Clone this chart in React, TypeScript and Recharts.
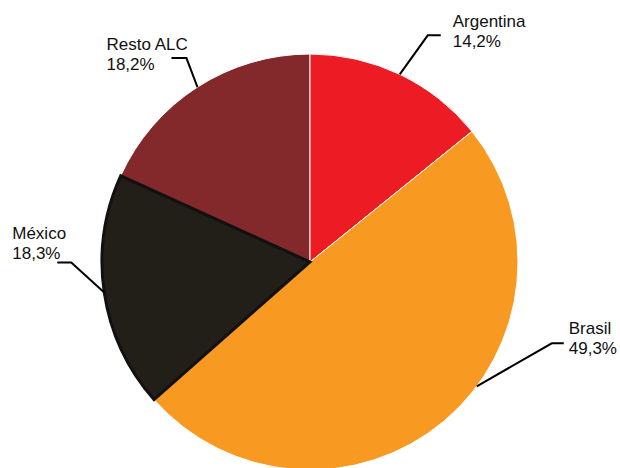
import { PieChart, Pie, Cell } from 'recharts';

// Drawing order puts México last so its dark outline stays on top
const countries = ['Resto ALC', 'Argentina', 'Brasil', 'México'];
const shares = [18.2, 14.2, 49.3, 18.3];
const colors = ['#84292B', '#ED1C24', '#F89A22', '#221F19'];

const data = countries.map((name, i) => ({ name, value: shares[i] }));

// leader line geometry per label: anchor angle override, elbow offset, tail, text offset from tail end
const LABEL_LAYOUT: Record<string, { angle?: number; dx: number; dy: number; tail: number; tx: number; ty: number }> = {
  Argentina: { dx: 28, dy: -39, tail: 13, tx: 12, ty: -8 },
  Brasil: { angle: -36.7, dx: 75, dy: -43, tail: 12, tx: 5, ty: -9 },
  'México': { dx: -33, dy: -30, tail: -14, tx: -45, ty: -24 },
  'Resto ALC': { dx: -11, dy: -29, tail: -15, tx: -65, ty: -8 },
};

const RAD = Math.PI / 180;

const renderLabel = (props: any) => {
  const { cx, cy, midAngle, outerRadius, name, value } = props;
  const cfg = LABEL_LAYOUT[name];
  const ang = cfg.angle ?? midAngle;
  const x0 = cx + outerRadius * Math.cos(-ang * RAD);
  const y0 = cy + outerRadius * Math.sin(-ang * RAD);
  const x1 = x0 + cfg.dx;
  const y1 = y0 + cfg.dy;
  const x2 = x1 + cfg.tail;
  const tx = x2 + cfg.tx;
  const ty = y1 + cfg.ty;
  return (
    <g key={`lbl-${name}`}>
      <polyline points={`${x0},${y0} ${x1},${y1} ${x2},${y1}`} fill="none" stroke="#000" strokeWidth={2} />
      <text x={tx} y={ty} fill="#111" fontSize={17} fontFamily="'Liberation Sans', Arial, sans-serif">
        <tspan x={tx} y={ty}>{name}</tspan>
        <tspan x={tx} y={ty + 20}>{value.toFixed(1).replace('.', ',')}%</tspan>
      </text>
    </g>
  );
};

export default function App() {
  const startAngle = 90 + (shares[0] / 100) * 360;
  return (
    <div style={{ position: 'absolute', left: 0, top: 0, width: 620, height: 468, background: '#fff' }}>
      <PieChart width={620} height={468} margin={{ top: 0, right: 0, bottom: 0, left: 0 }}>
        <Pie
          data={data}
          dataKey="value"
          nameKey="name"
          cx={310}
          cy={262}
          innerRadius={0}
          outerRadius={208}
          startAngle={startAngle}
          endAngle={startAngle - 360}
          label={renderLabel}
          labelLine={false}
          isAnimationActive={false}
        >
          {data.map((entry, i) => (
            <Cell
              key={`cell-${i}`}
              fill={colors[i]}
              stroke={entry.name === 'México' ? '#111' : '#fff'}
              strokeWidth={entry.name === 'México' ? 3 : 1}
            />
          ))}
        </Pie>
      </PieChart>
    </div>
  );
}
